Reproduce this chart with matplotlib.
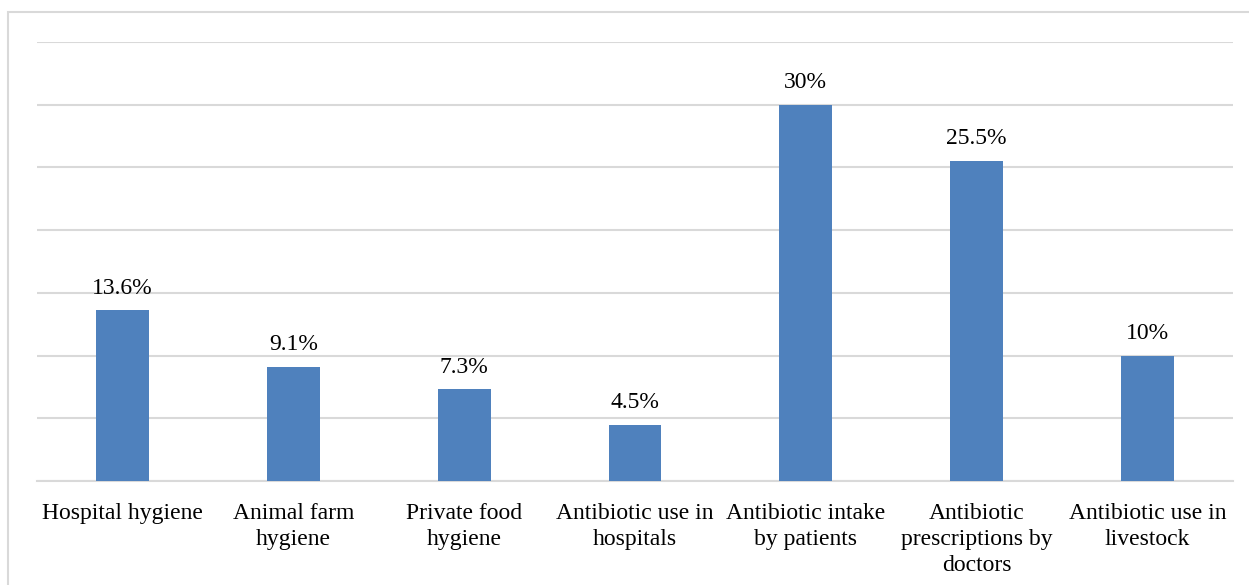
import matplotlib.pyplot as plt
from matplotlib.patches import Rectangle

categories = [
    "Hospital hygiene",
    "Animal farm\nhygiene",
    "Private food\nhygiene",
    "Antibiotic use in\nhospitals",
    "Antibiotic intake\nby patients",
    "Antibiotic\nprescriptions by\ndoctors",
    "Antibiotic use in\nlivestock",
]
values = [13.6, 9.1, 7.3, 4.5, 30, 25.5, 10]
value_labels = ["13.6%", "9.1%", "7.3%", "4.5%", "30%", "25.5%", "10%"]

plt.rcParams['font.family'] = ['Liberation Serif', 'DejaVu Serif']

fig = plt.figure(figsize=(12.49, 5.85), dpi=100)
ax = fig.add_axes([0.0296, 0.1778, 0.9576, 0.7504])

# outer chart frame (only left and top edges fall inside the image)
fig.patches.append(Rectangle((8 / 1249, -0.1), 1.2, 1 - 12 / 585 + 0.1,
                             transform=fig.transFigure, fill=False,
                             edgecolor='#D9D9D9', linewidth=1.5))

x = range(len(categories))
bars = ax.bar(x, values, width=0.31, color='#4F81BD', zorder=3)

for xi, v, lab in zip(x, values, value_labels):
    ax.annotate(lab, (xi, v), xytext=(0, 8.5), textcoords='offset points',
                ha='center', va='bottom', fontsize=17, color='#000000')

ax.set_xlim(-0.5, len(categories) - 0.5)
ax.set_ylim(0, 35)
ax.set_yticks(range(0, 36, 5))
ax.set_yticklabels([])
ax.tick_params(axis='y', length=0)
ax.grid(axis='y', color='#D9D9D9', linewidth=1.5, zorder=0)

ax.set_xticks(list(x))
ax.set_xticklabels(categories, fontsize=17, linespacing=1.3)
ax.tick_params(axis='x', length=0, pad=16)

for side in ['top', 'right', 'left']:
    ax.spines[side].set_visible(False)
ax.spines['bottom'].set_color('#D9D9D9')
ax.spines['bottom'].set_linewidth(1.5)

fig.savefig('out.png', dpi=100)
